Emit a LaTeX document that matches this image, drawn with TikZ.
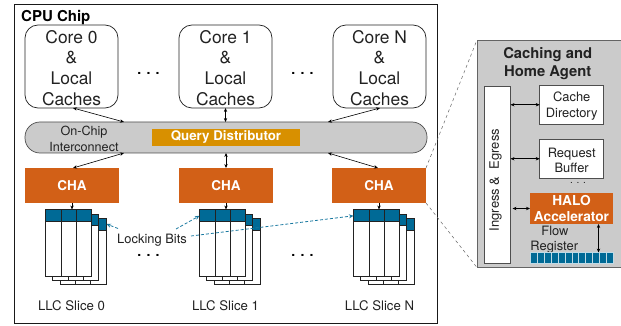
\documentclass[tikz,border=0pt]{standalone}
\usepackage{fontspec}
\setmainfont{TeX Gyre Heros}
\usetikzlibrary{arrows.meta,calc}
\definecolor{chaorange}{HTML}{D26017}
\definecolor{lockblue}{HTML}{006A96}
\definecolor{querygold}{HTML}{D89000}
\definecolor{panelgrey}{HTML}{CBCBCB}
\definecolor{ink}{HTML}{222222}
\newcommand{\fs}[2]{\fontsize{#1}{#2}\selectfont}
\newcommand{\threedots}{.\hspace{5.3pt}.\hspace{5.3pt}.}
\newcommand{\corestrut}{\rule{0pt}{15.5pt}}
\newcommand{\slicestack}[2]{%
  \begin{scope}[shift={(#1,0)}]
    \foreach \dx/\dy/\n in {14.4/8.7/2,7.2/4.4/2}{
      \foreach \i in {0,...,2}{
        \draw[cellline,fill=white] ({45.5+\dx+\i*15.35},{209.5+\dy}) rectangle ({60.85+\dx+\i*15.35},{276+\dy});
        \draw[cellline,fill=lockblue] ({45.5+\dx+\i*15.35},{209.5+\dy}) rectangle ({60.85+\dx+\i*15.35},{221.3+\dy});
      }
    }
    \foreach \i in {0,...,2}{
      \draw[cellline,fill=white] ({45.5+\i*15.35},209.5) rectangle ({60.85+\i*15.35},276);
      \draw[cellline,fill=lockblue] ({45.5+\i*15.35},209.5) rectangle ({60.85+\i*15.35},221.3);
    }
    \coordinate (#2) at (68.5,209.5);
    \coordinate (#2w) at (45.5,215.8);
  \end{scope}}
\tikzset{
  x=1pt,y=-1pt,
  box/.style={anchor=north west,inner sep=0pt,outer sep=0pt},
  corebox/.style={box,draw=ink,line width=.7pt,rounded corners=13pt,minimum width=93pt,minimum height=83pt,align=center,font=\fs{17.4}{20.7},text=ink},
  chabox/.style={box,fill=chaorange,minimum width=94pt,minimum height=35pt,text=white,font=\bfseries\fs{13.5}{15}},
  whitebox/.style={box,draw=ink!80,fill=white,line width=.7pt,minimum width=64pt,minimum height=38.5pt,align=center,font=\fs{12.9}{16},text=ink},
  cellline/.style={draw=ink,line width=.7pt},
  dbl/.style={{Stealth[length=4pt,width=3.4pt]}-{Stealth[length=4pt,width=3.4pt]},line width=.6pt,draw=black},
  single/.style={-{Stealth[length=4pt,width=3.4pt]},line width=.6pt,draw=black},
  lock/.style={-{Stealth[length=4.5pt,width=4pt]},densely dashed,line width=.8pt,draw=lockblue!90},
  zoomline/.style={dashed,line width=.5pt,draw=black!60},
  label/.style={inner sep=0pt,text=ink,font=\fs{13.2}{16},align=center},
  dots/.style={inner sep=0pt,font=\bfseries\fs{14}{14},text=black}
}
\begin{document}
\begin{tikzpicture}
\useasboundingbox (0,0) rectangle (621,326);
\fill[white] (0,0) rectangle (621,326);
% chip
\node[box,draw=black!90,line width=1.3pt,minimum width=422.5pt,minimum height=319pt] (chip) at (14.7,4.5) {};
\node[anchor=west,inner sep=0pt,font=\bfseries\fs{15}{15},text=black] (chiplabel) at (21,17.3) {CPU Chip};
% cores
\node[corebox] (core0) at (25,25) {\corestrut Core 0\\\&\\Local\\Caches};
\node[corebox] (core1) at (179,25) {\corestrut Core 1\\\&\\Local\\Caches};
\node[corebox] (coreN) at (333,25) {\corestrut Core N\\\&\\Local\\Caches};
\node[dots] (d1) at (148.5,73.5) {\threedots};
\node[dots] (d2) at (302.5,73.5) {\threedots};
% interconnect
\node[box,draw=ink!80,fill=panelgrey,line width=.7pt,rounded corners=15pt,minimum width=402pt,minimum height=31pt] (inter) at (25,122) {};
\node[label,font=\fs{12.6}{16}] (interlabel) at (84,139) {On-Chip\\Interconnect};
\node[box,fill=querygold,minimum width=148pt,minimum height=17pt,text=white,font=\bfseries\fs{13.3}{15}] (query) at (152,129) {\raisebox{-1pt}{Query Distributor}};
% CHA
\node[chabox] (cha0) at (25,168) {CHA};
\node[chabox] (cha1) at (179,168) {CHA};
\node[chabox] (chaN) at (332,168) {CHA};
% slices
\slicestack{0}{sa}
\slicestack{154}{sb}
\slicestack{308}{sc}
\node[dots] (d3) at (148.5,255) {\threedots};
\node[dots] (d4) at (302.5,255) {\threedots};
\node[label] (llc0) at (71.5,306) {LLC Slice 0};
\node[label] (llc1) at (225.5,306) {LLC Slice 1};
\node[label] (llcN) at (379.5,306) {LLC Slice N};
\node[label,font=\fs{12.9}{15}] (lockbits) at (152,240.5) {Locking Bits};
% connectors
\coordinate (c0a) at (73,108); \coordinate (c0b) at (124,122);
\coordinate (c0c) at (73,168); \coordinate (c0d) at (124,153);
\coordinate (cNa) at (380,108); \coordinate (cNb) at (328,122);
\coordinate (cNc) at (378,168); \coordinate (cNd) at (328,153);
\draw[dbl] (c0a) -- (c0b);
\draw[dbl] (c0c) -- (c0d);
\draw[dbl] (cNa) -- (cNb);
\draw[dbl] (cNc) -- (cNd);
\draw[dbl] (core1.south) -- (core1.south |- inter.north);
\draw[dbl] (cha1.north) -- (cha1.north |- inter.south);
\draw[single] (cha0.south) -- (cha0.south |- sa);
\draw[single] (cha1.south) -- (cha1.south |- sb);
\draw[single] (chaN.south) -- (chaN.south |- sc);
% locking arrows
\coordinate (la) at (106.5,224);
\coordinate (lb1) at (118,228.5);
\coordinate (lb2) at (176,229);
\coordinate (lb3) at (191,236);
\draw[lock] (lb1) -- (la);
\draw[lock] (lb2) -- (sbw);
\draw[lock] (lb3) -- (scw);
% zoom lines
\node[box,draw=ink!70,fill=panelgrey,line width=.9pt,minimum width=146pt,minimum height=227.5pt] (panel) at (477,40) {};
\draw[zoomline] (chaN.north east) -- (panel.north west);
\draw[zoomline] (chaN.south east) -- (panel.south west);
\node[inner sep=0pt,align=center,font=\bfseries\fs{14.8}{18},text=ink] (paneltitle) at (547.7,64) {Caching and\\Home Agent};
\node[box,draw=ink!80,fill=white,line width=.7pt,minimum width=26.5pt,minimum height=177pt] (ingress) at (484,86) {};
\node[inner sep=0pt,rotate=90,text=ink,font=\fs{13}{15}] (ingresslabel) at (495.5,180) {Ingress \& \ Egress};
\node[whitebox] (dir) at (539.7,85.5) {\rule{0pt}{12.5pt}Cache\\Directory};
\node[whitebox] (buf) at (539.7,139.5) {\rule{0pt}{12.5pt}Request\\[-1pt]Buffer};
\node[inner sep=0pt,font=\fs{10}{10},text=ink] (d5) at (578,183) {. . .};
\node[box,fill=chaorange,minimum width=83pt,minimum height=31pt,align=center,text=white,font=\bfseries\fs{13.7}{16}] (halo) at (530,193) {HALO\\Accelerator};
\node[label,font=\fs{12.9}{15}] (flowlabel) at (555,239.5) {Flow\\\hspace*{-1.5pt}Register};
\foreach \i in {0,...,11}{
  \node[box,fill=lockblue,draw=white!75!lockblue,line width=.4pt,minimum width=6.9pt,minimum height=10.5pt] (bit\i) at ({530.5+\i*6.87},252.5) {};
}
\coordinate (ib1) at (ingress.east |- dir.west);
\draw[dbl] (ib1) -- (dir.west);
\draw[dbl] (ingress.east |- buf.west) -- (buf.west);
\draw[dbl] (ingress.east |- halo.west) ++(2,0) -- (halo.west);
\coordinate (fr) at (598.5,252.5);
\draw[dbl] (fr |- halo.south) -- (fr);
\end{tikzpicture}
\end{document}
